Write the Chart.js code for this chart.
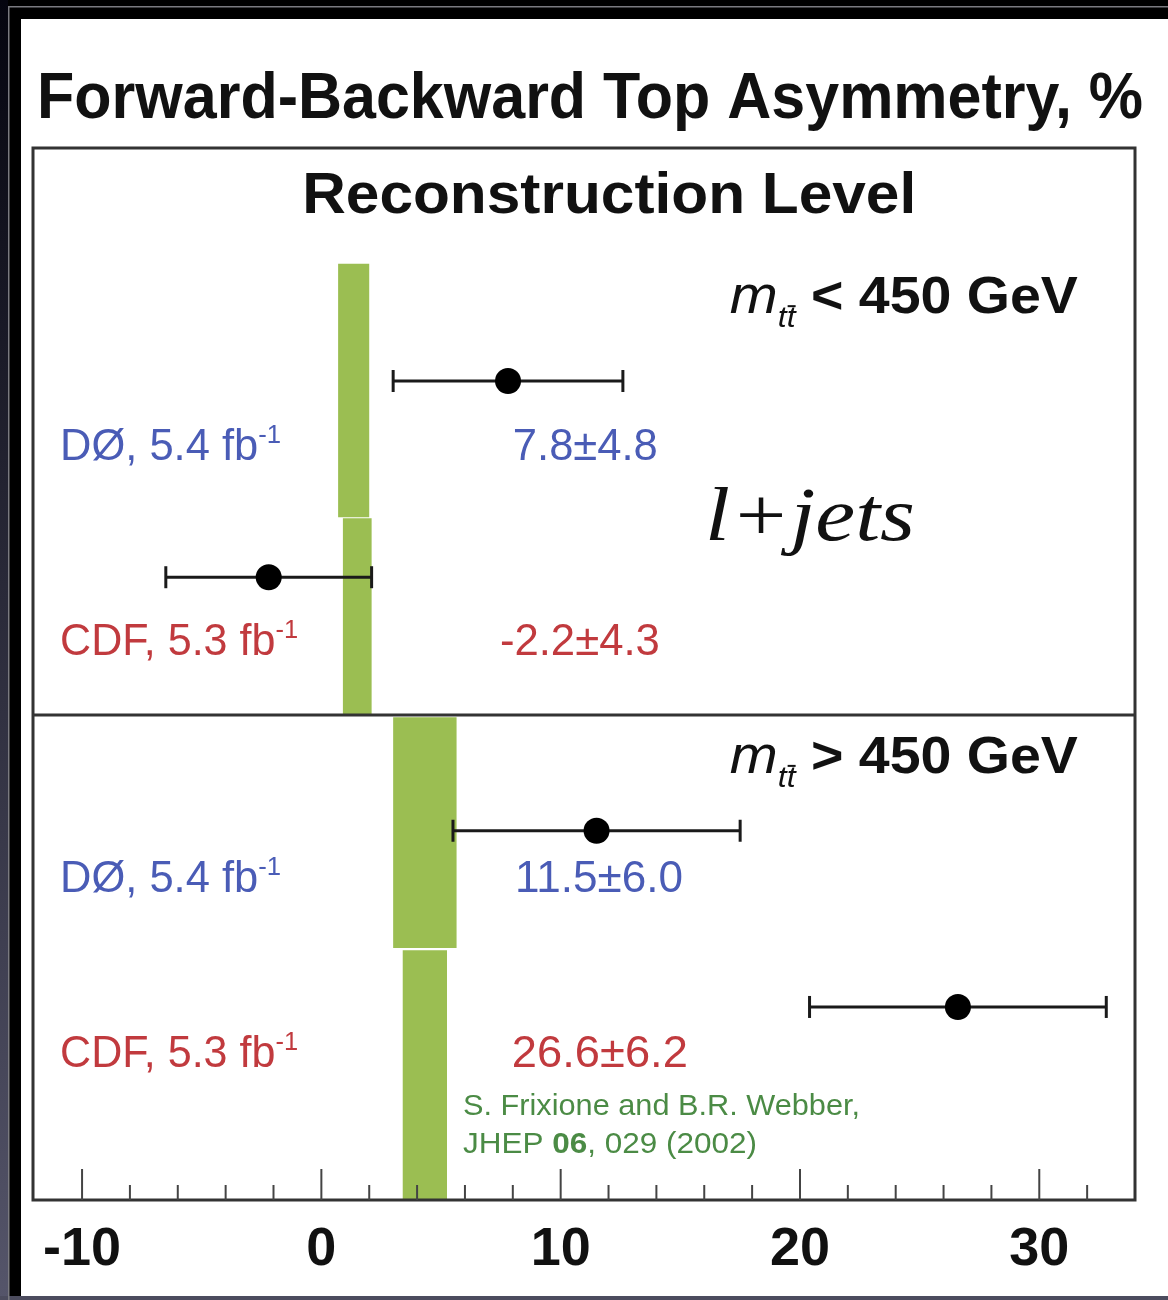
<!DOCTYPE html>
<html>
<head>
<meta charset="utf-8">
<script src="https://cdn.jsdelivr.net/npm/chart.js@4.4.1/dist/chart.umd.min.js"></script>
<style>
  html, body { margin: 0; padding: 0; background: #000; }
  canvas { display: block; }
</style>
</head>
<body>
<canvas id="afb" width="1168" height="1300"></canvas>
<script>
// measured asymmetries, %
const experiments = ['DØ', 'CDF'];
const lumis = ['5.4', '5.3'];
const afbLowMass = [7.8, -2.2];
const errLowMass = [4.8, 4.3];
const afbHighMass = [11.5, 26.6];
const errHighMass = [6.0, 6.2];
// MC@NLO prediction bands [low, high]
const nloLowMass = [[0.7, 2.0], [0.9, 2.1]];
const nloHighMass = [[3.0, 5.65], [3.4, 5.25]];
const massCuts = ['<', '>'];
const xTicks = [-10, -8, -6, -4, -2, 0, 2, 4, 6, 8, 10, 12, 14, 16, 18, 20, 22, 24, 26, 28, 30, 32];
const xMajor = [-10, 0, 10, 20, 30];

// vertical layout of the four rows, in y-axis units (0 = frame top, 100 = frame bottom)
const rows = [
  { band: [11.0, 35.1], point: 22.15, text: 29.7 },
  { band: [35.2, 53.9], point: 40.8, text: 48.2 },
  { band: [54.1, 76.05], point: 64.9, text: 70.7 },
  { band: [76.25, 100], point: 81.65, text: 87.4 }
];
const dividerY = 53.9;

const blue = '#4a5cb6', red = '#c13a3e', green = '#4b8b45', bandColor = '#9bbe52';

const values = [afbLowMass[0], afbLowMass[1], afbHighMass[0], afbHighMass[1]];
const errors = [errLowMass[0], errLowMass[1], errHighMass[0], errHighMass[1]];
const bands = [nloLowMass[0], nloLowMass[1], nloHighMass[0], nloHighMass[1]];

const datasets = [];
datasets.push({
  label: 'data',
  data: values.map((v, i) => ({ x: v, y: rows[i].point })),
  pointRadius: 13, pointBackgroundColor: '#000', pointBorderWidth: 0,
  showLine: false, order: 0
});
values.forEach((v, i) => {
  datasets.push({
    label: 'err' + i,
    data: [{ x: v - errors[i], y: rows[i].point }, { x: v + errors[i], y: rows[i].point }],
    showLine: true, borderColor: '#1a1a1a', borderWidth: 3,
    pointStyle: 'line', rotation: 90, pointRadius: 11, pointBorderWidth: 3, pointBorderColor: '#1a1a1a',
    order: 1
  });
});
bands.forEach((b, i) => {
  const t = rows[i].band[0], u = rows[i].band[1];
  datasets.push({
    label: 'nlo' + i,
    data: [{ x: b[0], y: t }, { x: b[1], y: t }, { x: b[1], y: u }, { x: b[0], y: u }, { x: b[0], y: t }],
    showLine: true, fill: 'shape', backgroundColor: bandColor, borderWidth: 0, pointRadius: 0,
    order: 2
  });
});

function drawRuns(ctx, runs, x, y, width, color) {
  let total = 0;
  runs.forEach(r => { ctx.font = r.font; r.w = ctx.measureText(r.t).width; total += r.w; });
  const s = width ? width / total : 1;
  ctx.save();
  ctx.translate(x, y);
  ctx.scale(s, 1);
  ctx.fillStyle = color;
  ctx.textBaseline = 'alphabetic';
  ctx.textAlign = 'left';
  let cx = 0;
  runs.forEach(r => {
    ctx.font = r.font;
    ctx.fillStyle = r.color || color;
    ctx.fillText(r.t, cx, r.dy || 0);
    if (r.bar) {
      ctx.fillRect(cx + r.w * 0.55, (r.dy || 0) - 22, r.w * 0.45, 2);
    }
    cx += r.w;
  });
  ctx.restore();
}

const sans = '"Liberation Sans", Arial, Helvetica, sans-serif';

const decor = {
  id: 'decor',
  beforeDraw(chart) {
    const ctx = chart.ctx;
    ctx.save();
    ctx.fillStyle = '#000';
    ctx.fillRect(0, 0, 1168, 1300);
    const g = ctx.createLinearGradient(0, 0, 0, 1300);
    g.addColorStop(0, '#05050f');
    g.addColorStop(1, '#55556a');
    ctx.fillStyle = g;
    ctx.fillRect(0, 0, 8, 1300);
    ctx.fillStyle = '#4c4c5e';
    ctx.fillRect(0, 1296, 1168, 4);
    ctx.fillStyle = '#7a7a80';
    ctx.fillRect(8, 6, 1160, 1.5);
    ctx.fillRect(8, 6, 1.5, 1294);
    ctx.fillStyle = '#fff';
    ctx.fillRect(21, 19, 1147, 1277);
    ctx.restore();
  },
  afterDatasetsDraw(chart) {
    const ctx = chart.ctx, a = chart.chartArea;
    const xs = chart.scales.x, ys = chart.scales.y;
    ctx.save();
    ctx.strokeStyle = '#333';
    ctx.lineWidth = 3;
    ctx.strokeRect(a.left, a.top, a.right - a.left, a.bottom - a.top);
    const dy = ys.getPixelForValue(dividerY);
    ctx.beginPath();
    ctx.moveTo(a.left, dy);
    ctx.lineTo(a.right, dy);
    ctx.stroke();
    ctx.lineWidth = 2;
    ctx.strokeStyle = '#444';
    xs.ticks.forEach(t => {
      const px = xs.getPixelForValue(t.value);
      const len = xMajor.includes(t.value) ? 31 : 15;
      ctx.beginPath();
      ctx.moveTo(px, a.bottom);
      ctx.lineTo(px, a.bottom - len);
      ctx.stroke();
    });
    ctx.restore();
  },
  afterDraw(chart) {
    const ctx = chart.ctx;
    const xs = chart.scales.x, ys = chart.scales.y;
    const X = v => xs.getPixelForValue(v), Y = v => ys.getPixelForValue(v);

    drawRuns(ctx, [{ t: 'Forward-Backward Top Asymmetry, %', font: 'bold 64px ' + sans }], X(-11.88), Y(-2.85), 1106, '#111');
    drawRuns(ctx, [{ t: 'Reconstruction Level', font: 'bold 57px ' + sans }], X(-0.8), Y(6.2), 614, '#111');

    const mY = [15.7, 59.4];
    massCuts.forEach((c, i) => {
      drawRuns(ctx, [
        { t: 'm', font: 'italic 54px ' + sans },
        { t: 'tt', font: 'italic 30px ' + sans, dy: 14, bar: true },
        { t: ' ' + c + ' 450 GeV', font: 'bold 52px ' + sans }
      ], X(17.07), Y(mY[i]), 348, '#111');
    });

    drawRuns(ctx, [{ t: 'l+jets', font: 'italic 76px "Liberation Serif", "Times New Roman", serif' }], X(16.03), Y(37.3), 210, '#111');

    const valueX = [8.0, 7.46, 8.09, 7.96];
    const valueW = [145, 160, 168, 176];
    for (let i = 0; i < 4; i++) {
      const e = i % 2;
      const col = e === 0 ? blue : red;
      drawRuns(ctx, [
        { t: experiments[e] + ', ' + lumis[e] + ' fb', font: '44px ' + sans },
        { t: '-1', font: '26px ' + sans, dy: -17 }
      ], X(-10.92), Y(rows[i].text), e === 0 ? 221 : 238, col);
      const txt = (values[i] < 0 ? '-' : '') + Math.abs(values[i]).toFixed(1) + '±' + errors[i].toFixed(1);
      drawRuns(ctx, [{ t: txt, font: '44px ' + sans }], X(valueX[i]), Y(rows[i].text), valueW[i], col);
    }

    drawRuns(ctx, [{ t: 'S. Frixione and B.R. Webber,', font: '30px ' + sans }], X(5.92), Y(91.9), 397, green);
    drawRuns(ctx, [
      { t: 'JHEP ', font: '30px ' + sans },
      { t: '06', font: 'bold 30px ' + sans },
      { t: ', 029 (2002)', font: '30px ' + sans }
    ], X(5.92), Y(95.5), 294, green);
  }
};

new Chart(document.getElementById('afb'), {
  type: 'scatter',
  data: { datasets: datasets },
  options: {
    responsive: false,
    animation: false,
    events: [],
    layout: { padding: { left: 33, right: 33, top: 148, bottom: 0 } },
    plugins: { legend: { display: false }, tooltip: { enabled: false } },
    scales: {
      x: {
        type: 'linear', min: -12.05, max: 34,
        afterBuildTicks: s => { s.ticks = xTicks.map(v => ({ value: v })); },
        afterFit: s => { s.height = 100; },
        grid: { display: false, drawTicks: false },
        border: { display: false },
        ticks: {
          autoSkip: false, maxRotation: 0, padding: 18,
          color: '#111',
          font: { family: sans, size: 54, weight: 'bold' },
          callback: v => xMajor.includes(v) ? String(v) : ''
        }
      },
      y: { type: 'linear', min: 0, max: 100, reverse: true, display: false }
    }
  },
  plugins: [decor]
});
</script>
</body>
</html>
